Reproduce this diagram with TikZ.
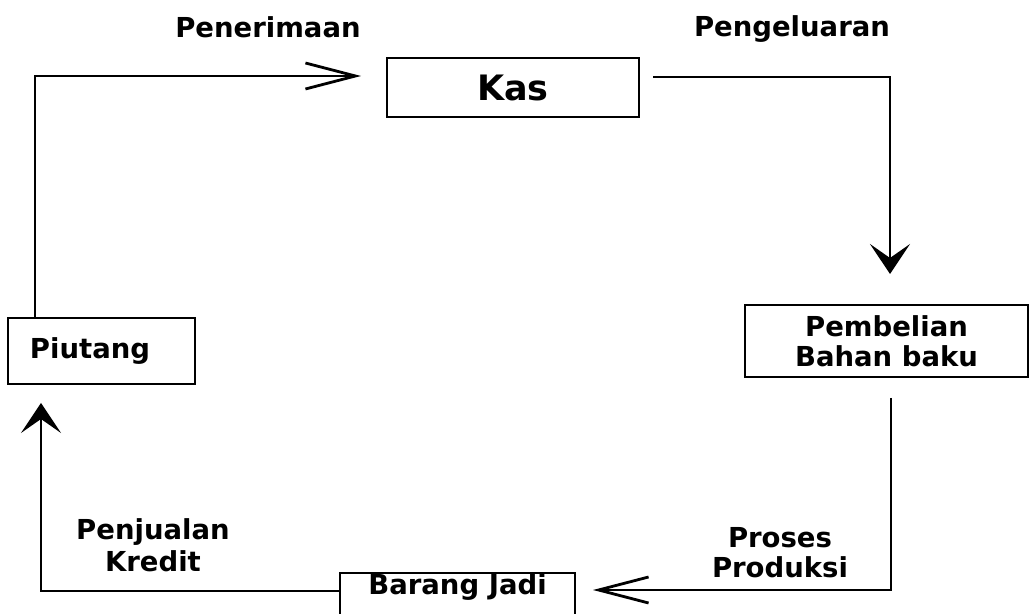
\documentclass[tikz,border=0pt]{standalone}
\usepackage{fontspec}
\setmainfont{DejaVu Sans}
\usetikzlibrary{arrows.meta}

\begin{document}
\begin{tikzpicture}[x=0.5pt,y=-0.5pt,line width=1pt,
  box/.style={draw,font=\bfseries\fontsize{13.75}{15}\selectfont,align=center,inner sep=0pt},
  lbl/.style={font=\bfseries\fontsize{13.75}{15}\selectfont,align=center,inner sep=0pt},
  openhead/.style={-{Straight Barb[length=25pt,width=13pt,line width=1.4pt]}},
  fullhead/.style={-{Stealth[length=15pt,width=20pt,inset=7pt]}}]
\useasboundingbox (0,0) rectangle (1029,614);

\node[box,minimum width=126pt,minimum height=29.5pt,font=\bfseries\fontsize{17.5}{20}\selectfont] (kas) at (513,87.5) {Kas};
\node[box,minimum width=141.5pt,minimum height=36pt] (pemb) at (886.5,341) {Pembelian\\Bahan baku};
\node[box,minimum height=33pt,text width=71.5pt,inner xsep=11pt,align=left] (piutang) at (101.5,351) {Piutang};
\node[box,anchor=north,minimum width=117.5pt,inner ysep=1pt,text height=10pt,text depth=30pt] (barang) at (457.5,572) {Barang Jadi};

\node[lbl] (terima) at (268,27) {Penerimaan};
\node[lbl] (keluar) at (792,29) {Pengeluaran};
\node[lbl,font=\bfseries\fontsize{13.75}{16}\selectfont] (jual) at (153,545) {Penjualan\\Kredit};
\node[lbl] (proses) at (780,553) {Proses\\Produksi};

\coordinate (tl) at (35,76);
\coordinate (tr) at (890,77);
\coordinate (br) at (891,590);
\coordinate (bl) at (41,591);

\draw[openhead,shorten >=12.5pt] (piutang.north -| tl) -- (tl) -- (kas.west |- tl);
\draw[fullhead,shorten <=6.5pt,shorten >=15pt] (kas.east |- tr) -- (tr) -- (pemb.north -| tr);
\draw[openhead,shorten <=10pt,shorten >=8.5pt] (pemb.south -| br) -- (br) -- (barang.east |- br);
\draw[fullhead,shorten >=9pt] (barang.west |- bl) -- (bl) -- (piutang.south -| bl);

\end{tikzpicture}
\end{document}
